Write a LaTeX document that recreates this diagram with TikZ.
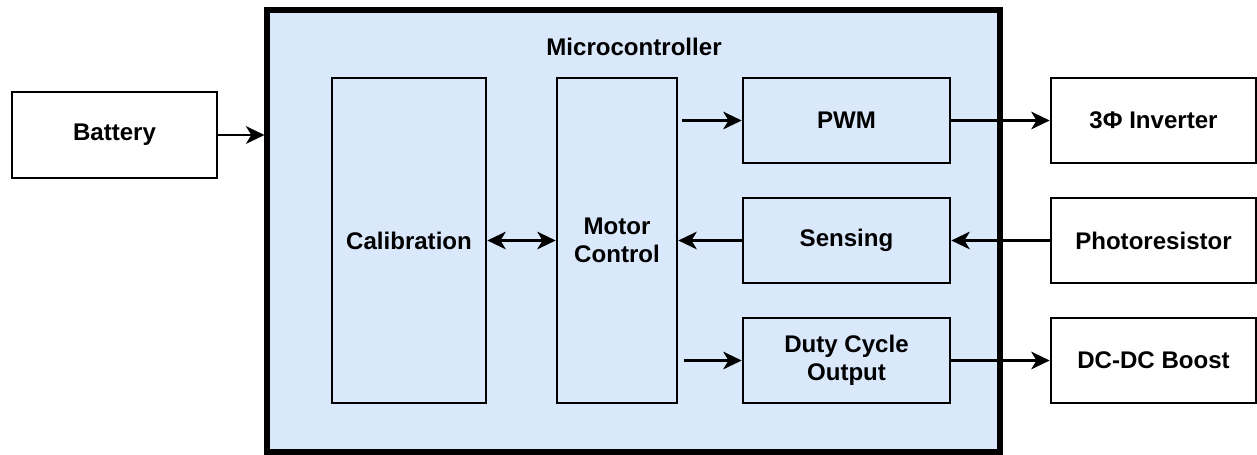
\documentclass[tikz,border=0pt]{standalone}
\usepackage{fontspec}
\setmainfont{Liberation Sans}
\usetikzlibrary{arrows.meta}

\definecolor{mcublue}{HTML}{DAE8FC}

\tikzset{
    block/.style={draw=black, line width=1.5pt, align=center, inner sep=0pt,
        font=\fontsize{13.7}{16}\selectfont\bfseries},
    link/.style={line width=1.4pt, -{Stealth[length=10.5pt,width=10pt,inset=3pt]}},
    duallink/.style={line width=1.4pt, {Stealth[length=10.5pt,width=10pt,inset=3pt]}-{Stealth[length=10.5pt,width=10pt,inset=3pt]}}
}

\begin{document}
\begin{tikzpicture}[x=0.02cm, y=-0.02cm]
    % canvas
    \useasboundingbox (0,0) rectangle (1257,455);

    % Microcontroller frame
    \node[draw=black, line width=2.9pt, fill=mcublue, minimum width=733*0.02cm,
        minimum height=442*0.02cm, inner sep=0pt] (micro) at (633.5,231) {};
    \node[font=\fontsize{13.7}{16}\selectfont\bfseries] (microtitle) at (634,47) {Microcontroller};

    % Blocks inside the microcontroller
    \node[block, minimum width=154*0.02cm, minimum height=325*0.02cm] (calib) at (409,240.5) {Calibration};
    \node[block, minimum width=120*0.02cm, minimum height=325*0.02cm] (motor) at (617,240.5) {Motor\\Control};
    \node[block, minimum width=207*0.02cm, minimum height=85*0.02cm] (pwm) at (846.5,120.5) {PWM};
    \node[block, minimum width=207*0.02cm, minimum height=85*0.02cm] (sensing) at (846.5,240.5) {Sensing};
    \node[block, minimum width=207*0.02cm, minimum height=85*0.02cm] (duty) at (846.5,360.5) {Duty Cycle\\Output};

    % Outside blocks
    \node[block, fill=white, minimum width=205*0.02cm, minimum height=86*0.02cm] (battery) at (114.5,135) {Battery};
    \node[block, fill=white, minimum width=205*0.02cm, minimum height=85*0.02cm] (inverter) at (1153.5,120.5) {3Φ Inverter};
    \node[block, fill=white, minimum width=205*0.02cm, minimum height=85*0.02cm] (photo) at (1153.5,240.5) {Photoresistor};
    \node[block, fill=white, minimum width=205*0.02cm, minimum height=85*0.02cm] (boost) at (1153.5,360.5) {DC-DC Boost};

    % Connections
    \draw[link] (battery.east) -- (micro.west |- battery.east);
    \draw[duallink] (calib.east) -- (motor.west);
    \draw[link, shorten <=2pt] (motor.east |- pwm.west) -- (pwm.west);
    \draw[link] (sensing.west) -- (motor.east |- sensing.west);
    \draw[link, shorten <=3pt] (motor.east |- duty.west) -- (duty.west);
    \draw[link] (pwm.east) -- (inverter.west);
    \draw[link] (photo.west) -- (sensing.east);
    \draw[link] (duty.east) -- (boost.west);
\end{tikzpicture}
\end{document}
